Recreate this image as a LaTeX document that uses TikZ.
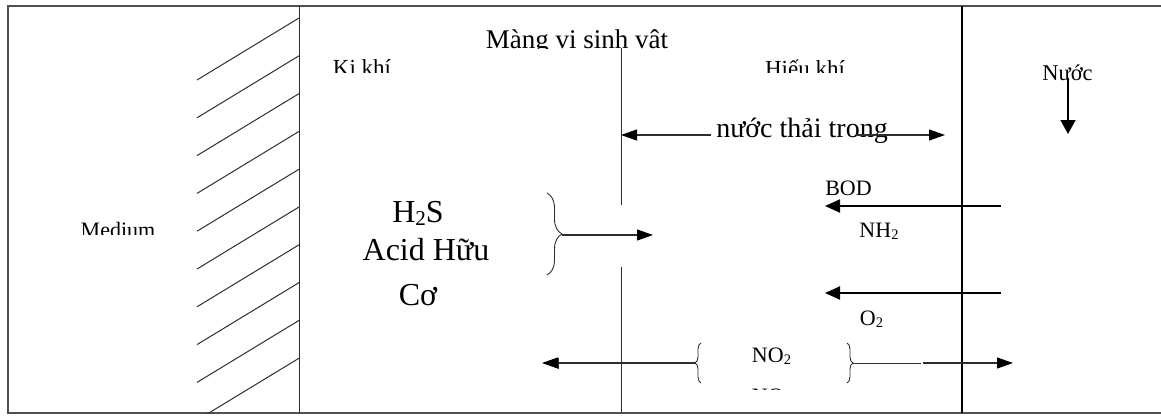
\documentclass[tikz,border=0pt]{standalone}
\usepackage{fontspec}
\setmainfont{Liberation Serif}
\usetikzlibrary{arrows.meta,decorations.pathreplacing}
\definecolor{framegray}{HTML}{505050}
\definecolor{linegray}{HTML}{2E2E2E}
\newcommand\fsz[1]{\fontsize{#1}{#1}\selectfont}
\newcommand\lowsub[1]{\raisebox{-0.1em}{\scalebox{0.66}{#1}}}

\begin{document}
\begin{tikzpicture}[x=1pt,y=-1pt,
  lbl/.style={inner sep=0pt, outer sep=0pt, anchor=base, text=black},
  frameline/.style={draw=framegray, line width=1.6pt},
  thinline/.style={draw=linegray, line width=1pt},
  boundline/.style={draw=black, line width=2.2pt},
  thinarrow/.style={draw=linegray, line width=1.1pt, -{Triangle[length=16pt,width=11pt,color=black]}},
  bolderarrow/.style={draw=black, line width=2pt, -{Triangle[length=15pt,width=13pt]}},
  bracepath/.style={draw=linegray, line width=0.9pt, decorate}
]
\useasboundingbox (0,0) rectangle (1161,416);

% outer frame (open on the right)
\draw[frameline] (1161,6) -- (8,6) -- (8,413) -- (1161,413);

% hatched support wall
\begin{scope}
  \clip (8,6) rectangle (299,413);
  \foreach \i in {0,...,9}
    \draw[thinline] (197,{80+37.8*\i}) -- (299,{18+37.8*\i});
\end{scope}
\draw[thinline] (299,6) -- (299,413);

% biofilm layer boundary (with an opening) and water boundary
\draw[thinline] (621,48) -- (621,205);
\draw[thinline] (621,267) -- (621,413);
\draw[boundline] (962,6) -- (962,413);

% clipped labels
\begin{scope}
  \clip (470,20) rectangle (690,48.5);
  \node[lbl] (mang) at (577,48) {\fsz{27}Màng vi sinh vât};
\end{scope}
\begin{scope}
  \clip (310,50) rectangle (420,72);
  \node[lbl] (kikhi) at (362,75.2) {\fsz{23}Ki khí};
\end{scope}
\begin{scope}
  \clip (740,50) rectangle (870,72);
  \node[lbl] (hieukhi) at (805,76) {\fsz{23}Hiếu khí};
\end{scope}
\begin{scope}
  \clip (60,210) rectangle (180,234.5);
  \node[lbl] (medium) at (118,237.6) {\fsz{22}Medium};
\end{scope}

% water side
\node[lbl] (nuoc) at (1067.5,80) {\fsz{22.5}Nước};
\coordinate (nuocS) at (1068,78);
\coordinate (nuocE) at (1068,134);
\draw[draw=black, line width=1.6pt, -{Triangle[length=14pt,width=15pt]}] (nuocS) -- (nuocE);

% wastewater span arrow
\node[lbl] (ntt) at (802,137) {\fsz{28}nước thải trong};
\coordinate (nttL) at (711,135);
\coordinate (nttLtip) at (621,135);
\coordinate (nttR) at (856,135);
\coordinate (nttRtip) at (945,135);
\draw[thinarrow] (nttL) -- (nttLtip);
\draw[thinarrow] (nttR) -- (nttRtip);

% substances entering from the water
\node[lbl] (bod) at (848.5,195) {\fsz{22}BOD};
\node[lbl] (nh2) at (879,237) {\fsz{22}NH\lowsub{2}};
\coordinate (bodS) at (1001,206);
\coordinate (bodE) at (825,206);
\draw[bolderarrow] (bodS) -- (bodE);

\node[lbl] (o2) at (871.5,325) {\fsz{22}O\lowsub{2}};
\coordinate (o2S) at (1001,293);
\coordinate (o2E) at (825,293);
\draw[bolderarrow] (o2S) -- (o2E);

% anaerobic products
\node[lbl] (h2s) at (418,222) {\fsz{32}H\lowsub{2}S};
\node[lbl] (acid) at (426,260) {\fsz{32}Acid Hữu};
\node[lbl] (co) at (418,305) {\fsz{32}Cơ};
\draw[bracepath, decoration={brace, amplitude=15pt}] (547,193) -- (547,275);
\coordinate (braceTip) at (562,235);
\coordinate (braceE) at (653,235);
\draw[thinarrow] (braceTip) -- (braceE);

% nitrogen products
\node[lbl] (no2) at (771.5,362) {\fsz{22}NO\lowsub{2}};
\begin{scope}
  \clip (740,380) rectangle (800,389);
  \node[lbl] (no3) at (771.5,403.5) {\fsz{22}NO\lowsub{3}};
\end{scope}
\draw[bracepath, decoration={brace, amplitude=6pt}] (701,383) -- (701,343);
\draw[bracepath, decoration={brace, amplitude=6pt}] (847,343) -- (847,383);
\coordinate (noL) at (695,363);
\coordinate (noLtip) at (542,363);
\coordinate (noR) at (853,363);
\coordinate (noGapA) at (921,363);
\coordinate (noGapB) at (923,363);
\coordinate (noRtip) at (1013,363);
\draw[draw=linegray, line width=1.1pt, {Triangle[length=16pt,width=11pt,color=black] Bar[width=11pt,line width=1pt]}-] (noLtip) -- (noL);
\draw[thinline] (noR) -- (noGapA);
\draw[thinarrow] (noGapB) -- (noRtip);
\end{tikzpicture}
\end{document}
